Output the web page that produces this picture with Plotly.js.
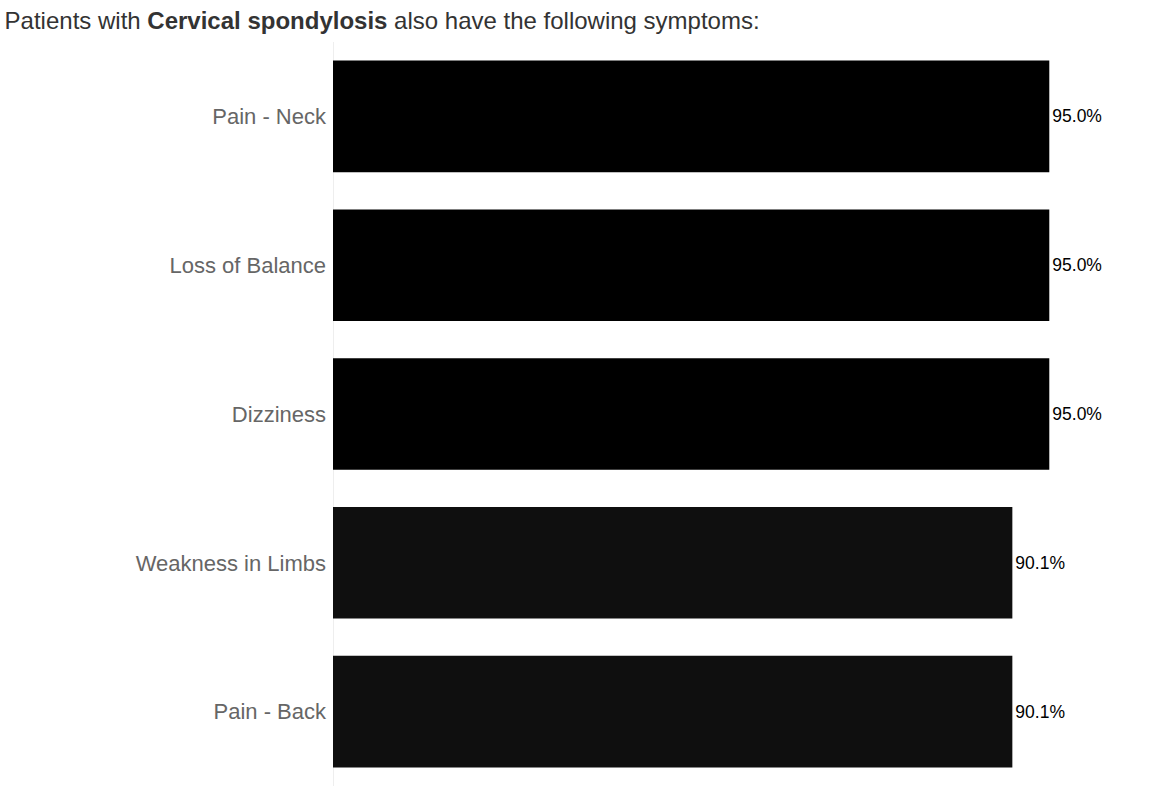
<!DOCTYPE html>
<html>
<head>
<meta charset="utf-8">
<script src="https://cdn.plot.ly/plotly-3.0.1.min.js"></script>
<style>html,body{margin:0;padding:0;background:#fff;}#chart{width:1149px;height:786px;}</style>
</head>
<body>
<div id="chart"></div>
<script>
const symptoms = ["Pain - Neck", "Loss of Balance", "Dizziness", "Weakness in Limbs", "Pain - Back"];
const percentages = [95.0, 95.0, 95.0, 90.1, 90.1];
const barColors = ["#000000", "#000000", "#000000", "#0f0f0f", "#0f0f0f"];

const trace = {
  type: "bar",
  orientation: "h",
  y: symptoms,
  x: percentages,
  marker: {color: barColors},
  text: percentages.map(v => v.toFixed(1) + "%"),
  textposition: "outside",
  textfont: {family: "Liberation Sans, Arial, sans-serif", size: 17.5, color: "#000"},
  cliponaxis: false,
  hoverinfo: "none"
};

const layout = {
  width: 1149,
  height: 786,
  margin: {l: 333, r: 62, t: 42, b: 0, pad: 0},
  paper_bgcolor: "#fff",
  plot_bgcolor: "#fff",
  bargap: 0.25,
  showlegend: false,
  title: {
    text: "Patients with <b>Cervical spondylosis</b> also have the following symptoms:",
    font: {family: "Liberation Sans, Arial, sans-serif", size: 24, color: "#333"},
    xref: "container", x: 0.004, xanchor: "left",
    yref: "container", y: 0.974, yanchor: "middle"
  },
  xaxis: {
    range: [0, 100],
    showgrid: false,
    showticklabels: false,
    zeroline: true,
    zerolinecolor: "#eeeeee",
    zerolinewidth: 1,
    fixedrange: true
  },
  yaxis: {
    autorange: "reversed",
    type: "category",
    showgrid: false,
    zeroline: false,
    ticks: "",
    ticklabelstandoff: 6,
    tickfont: {family: "Liberation Sans, Arial, sans-serif", size: 22, color: "#666"},
    fixedrange: true
  }
};

Plotly.newPlot("chart", [trace], layout, {displayModeBar: false, staticPlot: true});
</script>
</body>
</html>
